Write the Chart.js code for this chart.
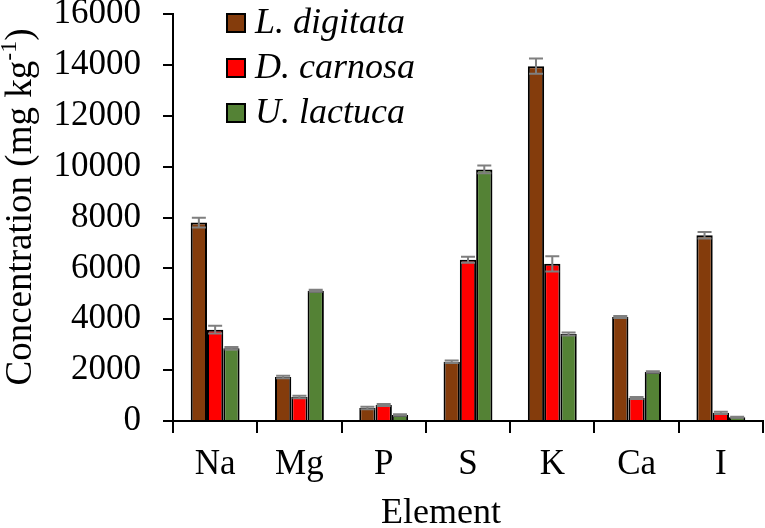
<!DOCTYPE html>
<html lang="en">
<head>
  <meta charset="UTF-8" />
  <title>Element concentration</title>
  <script src="https://cdn.jsdelivr.net/npm/chart.js"></script>
  <style>
    html,body{margin:0;padding:0;background:#fff}
    .wrap{width:765px;height:528px;position:relative}
  </style>
</head>
<body>
<div class="wrap"><canvas id="chart" width="765" height="528"></canvas></div>
<script>
// values (mg kg-1)
const elements = ['Na','Mg','P','S','K','Ca','I'];
const digitata = [7800,1730,510,2330,13950,4090,7300];
const digitataErr = [190,50,50,50,300,40,130];
const carnosa = [3590,945,630,6340,6180,900,320];
const carnosaErr = [150,50,40,120,300,40,40];
const lactuca = [2860,5120,240,9890,3420,1930,150];
const lactucaErr = [50,40,30,150,60,30,20];
const seriesNames = ['L. digitata','D. carnosa','U. lactuca'];
const seriesColors = ['#843C0C','#FF0000','#548235'];

const FONT = '"Liberation Serif","Times New Roman",serif';

// draws the grey error bars on top of each bar
const errorBars = {
  id:'errorBars',
  afterDatasetsDraw(chart){
    const ctx=chart.ctx, y=chart.scales.y;
    const errs=[digitataErr,carnosaErr,lactucaErr];
    ctx.save();
    ctx.strokeStyle='#7f7f7f';
    ctx.lineWidth=2;
    chart.data.datasets.forEach((ds,i)=>{
      chart.getDatasetMeta(i).data.forEach((bar,j)=>{
        const v=ds.data[j], e=errs[i][j];
        const yt=y.getPixelForValue(v+e), yb=y.getPixelForValue(v-e);
        ctx.beginPath();
        ctx.moveTo(bar.x,yt);ctx.lineTo(bar.x,yb);
        ctx.moveTo(bar.x-7,yt);ctx.lineTo(bar.x+7,yt);
        ctx.moveTo(bar.x-7,yb);ctx.lineTo(bar.x+7,yb);
        ctx.stroke();
      });
    });
    ctx.restore();
  }
};

// legend in the top-left of the plot, axis titles (y title has a superscript)
const decorations = {
  id:'decorations',
  afterDraw(chart){
    const ctx=chart.ctx;
    ctx.save();
    seriesNames.forEach((name,i)=>{
      const cy=23+i*45;
      ctx.fillStyle=seriesColors[i];
      ctx.fillRect(227,cy-9,18,18);
      ctx.strokeStyle='#000';ctx.lineWidth=2;
      ctx.strokeRect(227,cy-9,18,18);
      ctx.fillStyle='#000';
      ctx.font='italic 36px '+FONT;
      ctx.textBaseline='middle';ctx.textAlign='left';
      ctx.fillText(name,255,cy+1);
    });
    // x axis title
    ctx.font='36px '+FONT;
    ctx.textAlign='center';ctx.textBaseline='middle';
    ctx.fillText('Element',441,514);
    // y axis title
    ctx.translate(21,207);
    ctx.rotate(-Math.PI/2);
    ctx.textBaseline='middle';ctx.textAlign='left';
    const big='37px '+FONT, small='24px '+FONT;
    ctx.font=big; const w1=ctx.measureText('Concentration (mg kg').width;
    ctx.font=small; const w2=ctx.measureText('-1').width;
    ctx.font=big; const w3=ctx.measureText(')').width;
    let x=-(w1+w2+w3)/2;
    ctx.fillText('Concentration (mg kg',x,0); x+=w1;
    ctx.font=small; ctx.fillText('-1',x,-11); x+=w2;
    ctx.font=big; ctx.fillText(')',x,0);
    ctx.restore();
  }
};

new Chart(document.getElementById('chart'),{
  type:'bar',
  data:{
    labels:elements,
    datasets:[digitata,carnosa,lactuca].map((d,i)=>({
      label:seriesNames[i],data:d,backgroundColor:seriesColors[i],
      borderColor:'#000',borderWidth:2,barPercentage:1,categoryPercentage:0.58
    }))
  },
  options:{
    responsive:false,animation:false,
    layout:{padding:{left:0,right:2,top:14,bottom:0}},
    plugins:{legend:{display:false},tooltip:{enabled:false}},
    scales:{
      x:{
        grid:{offset:true,drawOnChartArea:false,color:'#000',lineWidth:2,tickLength:12},
        border:{color:'#000',width:2},
        ticks:{color:'#000',font:{family:FONT,size:35},padding:11,maxRotation:0},
        afterFit(s){s.height=107;s.paddingLeft=0;s.paddingRight=0;}
      },
      y:{
        min:0,max:16000,
        grid:{drawOnChartArea:false,color:'#000',lineWidth:2,tickLength:10},
        border:{color:'#000',width:2},
        ticks:{stepSize:2000,color:'#000',font:{family:FONT,size:35},padding:22,callback:v=>String(v)},
        afterFit(s){s.width=173;s.paddingTop=0;s.paddingBottom=0;}
      }
    }
  },
  plugins:[errorBars,decorations]
});
</script>
</body>
</html>
